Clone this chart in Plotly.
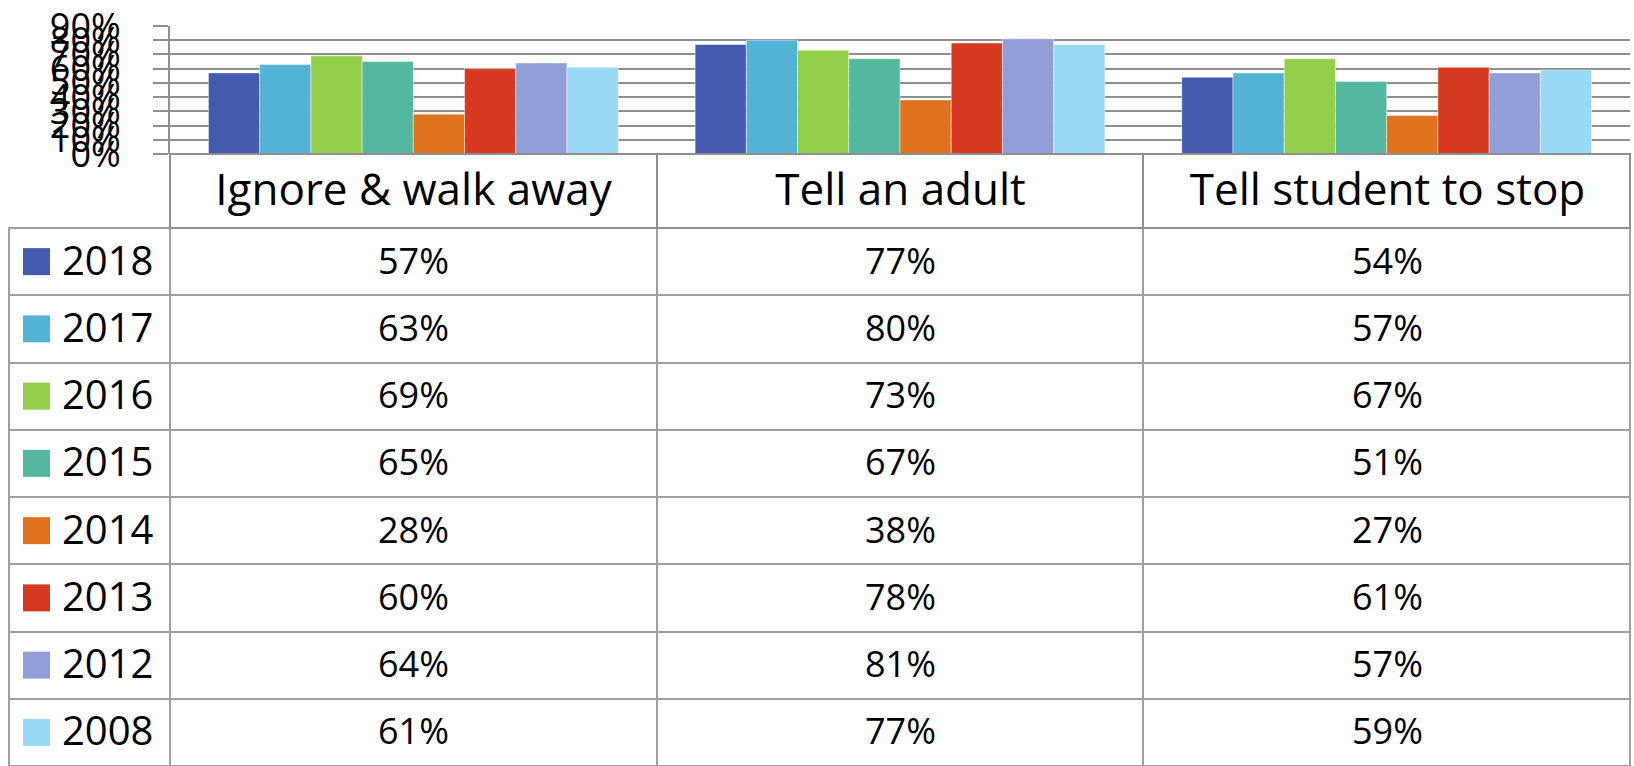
import plotly.graph_objects as go

# answers to the "what do you do" question, one value per category
categories = ["Ignore & walk away", "Tell an adult", "Tell student to stop"]
years = ["2018", "2017", "2016", "2015", "2014", "2013", "2012", "2008"]
values_2018 = [57, 77, 54]
values_2017 = [63, 80, 57]
values_2016 = [69, 73, 67]
values_2015 = [65, 67, 51]
values_2014 = [28, 38, 27]
values_2013 = [60, 78, 61]
values_2012 = [64, 81, 57]
values_2008 = [61, 77, 59]
y_ticks = [0, 10, 20, 30, 40, 50, 60, 70, 80, 90]
y_tick_labels = ["0%", "10%", "20%", "30%", "40%", "50%", "60%", "70%", "80%", "90%"]

series = [values_2018, values_2017, values_2016, values_2015,
          values_2014, values_2013, values_2012, values_2008]
colors = ["#445AAE", "#53B3D7", "#93CF4B", "#53B89D",
          "#E0721D", "#D53A20", "#919ED7", "#9AD9F3"]

W, H = 1634, 766
GRID = "#8f8f8f"
FONT = "Open Sans"

# table geometry (pixels)
TABLE_LEFT, TABLE_RIGHT, TABLE_TOP = 9, 1630, 154
COL_W = [161, 487, 487, 487]
HEADER_H, ROW_H = 74, 67.25
TEXT_DROP = 3  # text sits a little below the row centre in the original

def px_x(p):
    return p / W

def px_y(p):
    return 1 - p / H

fig = go.Figure()
for year, vals, col in zip(years, series, colors):
    fig.add_trace(go.Bar(
        x=categories, y=vals, name=year,
        marker=dict(color=col, line=dict(color="rgba(255,255,255,0.45)", width=1)),
        showlegend=False,
    ))

# table grid (borders only, text is put on top through its own axes)
n_rows = len(years)
fig.add_trace(go.Table(
    domain=dict(x=[px_x(TABLE_LEFT), px_x(TABLE_RIGHT)], y=[0, px_y(TABLE_TOP)]),
    columnwidth=COL_W,
    header=dict(
        values=["", "", "", ""], height=HEADER_H,
        fill=dict(color="rgba(0,0,0,0)"),
        line=dict(color=["rgba(0,0,0,0)", GRID, GRID, GRID], width=2),
    ),
    cells=dict(
        values=[[""] * n_rows for _ in COL_W], height=ROW_H,
        fill=dict(color="rgba(0,0,0,0)"),
        line=dict(color="#a0a0a0", width=2),
    ),
))

# x2 in pixels across the table, y2 in table rows (row i centred on i)
col_left = [TABLE_LEFT]
for w in COL_W:
    col_left.append(col_left[-1] + w)
col_center = [(a + b) / 2 for a, b in zip(col_left[:-1], col_left[1:])]
header_y = -0.5 - HEADER_H / 2 / ROW_H
row_y = list(range(n_rows))

fig.add_trace(go.Scatter(
    x=col_center[1:], y=[header_y] * len(categories), text=categories,
    mode="text", textposition="middle center",
    textfont=dict(family=FONT, size=44, color="black"),
    xaxis="x2", yaxis="y2", showlegend=False, hoverinfo="skip",
))

cell_x, cell_y, cell_t = [], [], []
for r, vals in enumerate(series):
    for c, v in enumerate(vals):
        cell_x.append(col_center[c + 1])
        cell_y.append(row_y[r])
        cell_t.append(f"{v}%")
fig.add_trace(go.Scatter(
    x=cell_x, y=cell_y, text=cell_t,
    mode="text", textposition="middle center",
    textfont=dict(family=FONT, size=36, color="black"),
    xaxis="x2", yaxis="y2", showlegend=False, hoverinfo="skip",
))

# legend keys and year labels in the first column
fig.add_trace(go.Scatter(
    x=[TABLE_LEFT + 27.5] * n_rows, y=row_y,
    mode="markers", marker=dict(symbol="square", size=27, color=colors, line=dict(width=0)),
    xaxis="x3", yaxis="y3", showlegend=False, hoverinfo="skip",
))
fig.add_trace(go.Scatter(
    x=[TABLE_LEFT + 53] * n_rows, y=row_y, text=years,
    mode="text", textposition="middle right",
    textfont=dict(family=FONT, size=40, color="black"),
    xaxis="x2", yaxis="y2", showlegend=False, hoverinfo="skip",
))

shift = TEXT_DROP / ROW_H
fig.update_layout(
    width=W, height=H,
    margin=dict(l=0, r=0, t=0, b=0),
    paper_bgcolor="white", plot_bgcolor="rgba(0,0,0,0)",
    barmode="group", bargap=0.158, bargroupgap=0,
    xaxis=dict(domain=[px_x(170), px_x(1630)], showticklabels=False,
               showgrid=False, showline=False, ticks="", automargin=False),
    yaxis=dict(domain=[px_y(154), px_y(26)], range=[0, 90],
               tickvals=y_ticks, ticktext=y_tick_labels,
               showgrid=True, gridcolor=GRID, gridwidth=2,
               zeroline=False, showline=True, linecolor=GRID, linewidth=2,
               ticks="outside", ticklen=15, tickwidth=2, tickcolor=GRID,
               ticklabelstandoff=25, automargin=False,
               tickfont=dict(family=FONT, size=36, color="black")),
    # text axes, nudged down a few pixels
    xaxis2=dict(domain=[0, 1], range=[0, W], visible=False, fixedrange=True),
    yaxis2=dict(domain=[0, px_y(TABLE_TOP)],
                range=[n_rows - 0.5 - shift, -0.5 - HEADER_H / ROW_H - shift],
                visible=False, fixedrange=True),
    # key squares, exactly on the row centres
    xaxis3=dict(overlaying="x2", range=[0, W], visible=False, fixedrange=True),
    yaxis3=dict(overlaying="y2", range=[n_rows - 0.5, -0.5 - HEADER_H / ROW_H],
                visible=False, fixedrange=True),
)

fig.write_html("out.html", config={"displayModeBar": False},
               post_script="document.body.style.margin='0';")
